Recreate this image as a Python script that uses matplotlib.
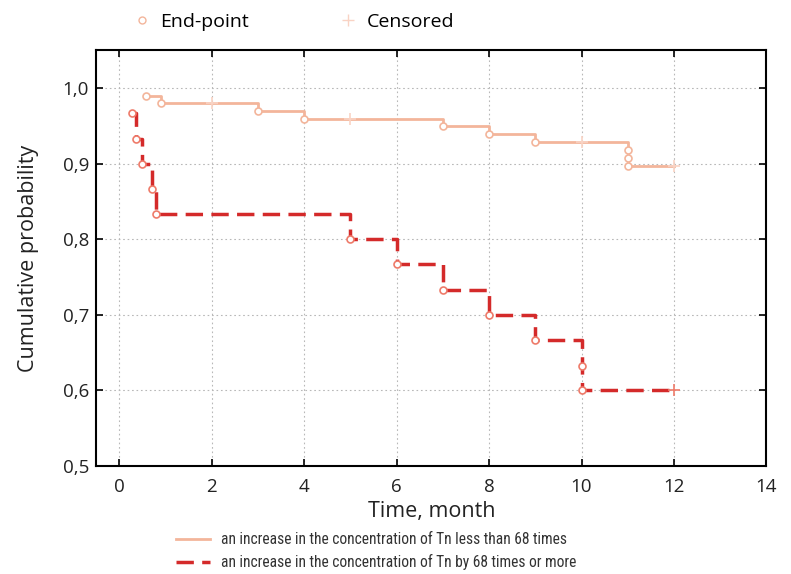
import matplotlib
matplotlib.use("Agg")
import matplotlib.pyplot as plt
from matplotlib.lines import Line2D
from matplotlib.ticker import FuncFormatter

plt.rcParams['font.family'] = ['Open Sans', 'DejaVu Sans']

# Kaplan-Meier estimates, group with Tn increase < 68 times
t_low = [0.58, 0.9, 3, 4, 7, 8, 9, 11, 11, 11]
s_low = [0.99, 0.98, 0.97, 0.96, 0.95, 0.94, 0.929, 0.918, 0.908, 0.897]
cens_t_low = [2, 5, 10, 12]
cens_s_low = [0.98, 0.96, 0.929, 0.897]

# group with Tn increase >= 68 times
t_high = [0.27, 0.37, 0.5, 0.7, 0.8, 5, 6, 7, 8, 9, 10, 10]
s_high = [0.967, 0.933, 0.9, 0.867, 0.833, 0.8, 0.767, 0.733, 0.7, 0.667, 0.633, 0.6]
cens_t_high = [12]
cens_s_high = [0.6]

label_low = 'an increase in the concentration of Tn less than 68 times'
label_high = 'an increase in the concentration of Tn by 68 times or more'

c_low = '#f3b59b'
c_high = '#d42a2a'
c_circ_high = '#ee7b6a'
c_cens = '#f9d3c4'
dash = (5, 2.4)

fig = plt.figure(figsize=(7.91, 5.74), dpi=100)
ax = fig.add_axes([0.1214, 0.1882, 0.8476, 0.7247])

# step curves, extended to the last censored time
ax.step(t_low + [cens_t_low[-1]], s_low + [s_low[-1]], where='post',
        color=c_low, lw=2)
ax.step(t_high + [cens_t_high[-1]], s_high + [s_high[-1]], where='post',
        color=c_high, lw=2.5, dashes=dash)

# event points and censored marks
ax.plot(t_low, s_low, 'o', mfc='white', mec=c_low, ms=5, mew=1.2, zorder=3)
ax.plot(t_high, s_high, 'o', mfc='white', mec=c_circ_high, ms=5, mew=1.2, zorder=3)
ax.plot(cens_t_low, cens_s_low, '+', color=c_cens, ms=8, mew=1.2, zorder=3)
ax.plot(cens_t_high, cens_s_high, '+', color=c_circ_high, ms=8, mew=1.2, zorder=3)

ax.set_xlim(-0.5, 14)
ax.set_ylim(0.5, 1.0507)
ax.set_xticks(range(0, 15, 2))
ax.set_yticks([0.5, 0.6, 0.7, 0.8, 0.9, 1.0])
ax.yaxis.set_major_formatter(FuncFormatter(lambda v, p: f'{v:.1f}'.replace('.', ',')))
ax.tick_params(direction='in', top=True, right=True, length=5, width=1.2,
               labelsize=13.5, colors='black', labelcolor='#222222')
ax.tick_params(axis='x', pad=9)
ax.tick_params(axis='y', pad=5)
ax.grid(True, color='#b8b8b8', linestyle=(0, (1.5, 2.5)), linewidth=0.8)
for sp in ax.spines.values():
    sp.set_linewidth(1.5)

ax.set_xlabel('Time, month', fontsize=15.5, color='#222222', labelpad=3)
ax.set_ylabel('Cumulative probability', fontsize=15.5, color='#222222', labelpad=17)

# marker legend above the plot
top_handles = [
    Line2D([], [], marker='o', ls='none', mfc='white', mec=c_low, ms=5, mew=1),
    Line2D([], [], marker='+', ls='none', color=c_cens, ms=8, mew=1),
]
fig.legend(top_handles, ['End-point', 'Censored'], ncol=2, frameon=False,
           loc='center left', bbox_to_anchor=(0.145, 0.962), fontsize=14,
           handlelength=1.0, handletextpad=0.45, columnspacing=4.6)

# line legend below the plot
bot_handles = [
    Line2D([], [], color=c_low, lw=2),
    Line2D([], [], color=c_high, lw=2.5, dashes=dash),
]
fig.legend(bot_handles, [label_low, label_high], frameon=False,
           loc='center left', bbox_to_anchor=(0.205, 0.04),
           prop={'family': ['Liberation Sans Narrow', 'DejaVu Sans Condensed',
                            'Roboto Condensed', 'Roboto'], 'size': 11.2},
           handlelength=2.2, handletextpad=0.7, labelspacing=0.45,
           labelcolor='#333333')

fig.savefig('out.png', dpi=100)
